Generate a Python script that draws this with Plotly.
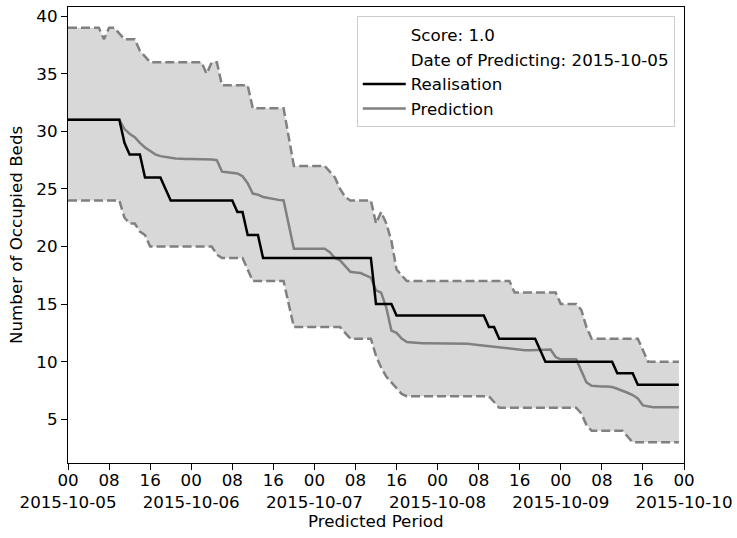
import pandas as pd
import plotly.graph_objects as go

# ---- data (hourly) ----
start = "2015-10-05 00:00"
n_hours = 120

realisation = ([31]*11 + [29] + [28]*3 + [26]*4 + [25] + [24]*13 + [23]*2 + [21]*3
               + [19]*22 + [15]*4 + [14]*18 + [13]*2 + [12]*8 + [11] + [10]*14
               + [9]*4 + [8]*9)

prediction = ([31]*11 + [30.2, 29.8, 29.5, 29.0, 28.6, 28.3, 28.0, 27.85, 27.75, 27.7, 27.65,
               27.6, 27.6, 27.6, 27.6, 27.55, 27.55, 27.55, 27.5, 26.5, 26.45, 26.4, 26.35, 26.1,
               25.5, 24.6, 24.5, 24.3, 24.2, 24.1, 24.05, 24.0, 22.0, 19.8,
               19.8, 19.8, 19.8, 19.8, 19.8, 19.8, 19.5, 19.0, 18.8, 18.3, 17.8, 17.75, 17.7,
               17.5, 17.3, 16.2, 16.0, 14.7, 12.7, 12.5, 12.0, 11.7,
               11.65, 11.65, 11.6, 11.6, 11.6, 11.6, 11.6, 11.6, 11.6, 11.6, 11.55, 11.55, 11.5,
               11.45, 11.35, 11.3, 11.25, 11.2, 11.15, 11.1, 11.1, 11.05, 11.0, 11.0, 11.0,
               11.05, 11.05, 11.05, 10.4, 10.2, 10.2, 10.2, 10.2, 9.2, 8.2, 7.9,
               7.85, 7.85, 7.85, 7.8, 7.65, 7.5, 7.3, 7.1, 6.8, 6.2, 6.1,
               6.05, 6.05, 6.05, 6.05, 6.05, 6.05])

upper = ([39]*7 + [38] + [39]*2 + [38.5] + [38]*3 + [37, 36.5] + [36]*11 + [35] + [36]*2
         + [34]*6 + [32]*7 + [29.5] + [27]*7 + [26.5, 26, 25, 24.3] + [24]*5
         + [22, 23, 22, 20.5, 18, 17.5] + [17]*21 + [16]*9 + [15]*4 + [14.5, 13]
         + [12]*10 + [11] + [10]*7)

lower = ([24]*11 + [22.5] + [22]*2 + [21.3, 21] + [20]*13 + [19.3] + [19]*5 + [18]
         + [17]*7 + [15] + [13]*10 + [12.5] + [12]*5
         + [10.5, 9.5, 8.7, 8.2, 7.7, 7.2] + [7]*17 + [6.5] + [6]*16 + [5.5, 4.5]
         + [4]*7 + [3.5] + [3]*10)

tick_vals = ["2015-10-05 00:00", "2015-10-05 08:00", "2015-10-05 16:00",
             "2015-10-06 00:00", "2015-10-06 08:00", "2015-10-06 16:00",
             "2015-10-07 00:00", "2015-10-07 08:00", "2015-10-07 16:00",
             "2015-10-08 00:00", "2015-10-08 08:00", "2015-10-08 16:00",
             "2015-10-09 00:00", "2015-10-09 08:00", "2015-10-09 16:00",
             "2015-10-10 00:00"]
tick_text = ["00<br>2015-10-05", "08", "16",
             "00<br>2015-10-06", "08", "16",
             "00<br>2015-10-07", "08", "16",
             "00<br>2015-10-08", "08", "16",
             "00<br>2015-10-09", "08", "16",
             "00<br>2015-10-10"]
y_ticks = [5, 10, 15, 20, 25, 30, 35, 40]

score_label = "Score: 1.0"
date_label = "Date of Predicting: 2015-10-05"
x_title = "Predicted Period"
y_title = "Number of Occupied Beds"

x = pd.date_range(start, periods=n_hours, freq="h")

FONT = "DejaVu Sans"
FS = 16.7
fig = go.Figure()

# band
fig.add_trace(go.Scatter(x=x, y=lower, mode="lines", line=dict(width=0, color="rgba(0,0,0,0)"),
                         showlegend=False, hoverinfo="skip"))
fig.add_trace(go.Scatter(x=x, y=upper, mode="lines", line=dict(width=0, color="rgba(0,0,0,0)"),
                         fill="tonexty", fillcolor="#d8d8d8", showlegend=False, hoverinfo="skip"))
# dashed bounds
for arr in (lower, upper):
    fig.add_trace(go.Scatter(x=x, y=arr, mode="lines",
                             line=dict(color="#808080", width=2.5, dash="9px,4px"),
                             showlegend=False))

# legend text-only entries
fig.add_trace(go.Scatter(x=[None], y=[None], mode="lines", name=score_label,
                         line=dict(color="rgba(0,0,0,0)", width=0), legendrank=1, legendgroup="a"))
fig.add_trace(go.Scatter(x=[None], y=[None], mode="lines", name=date_label,
                         line=dict(color="rgba(0,0,0,0)", width=0), legendrank=2, legendgroup="b"))

fig.add_trace(go.Scatter(x=x, y=prediction, mode="lines", name="Prediction",
                         line=dict(color="#808080", width=2.5), legendrank=4, legendgroup="d"))
fig.add_trace(go.Scatter(x=x, y=realisation, mode="lines", name="Realisation",
                         line=dict(color="black", width=2.5), legendrank=3, legendgroup="c"))

axis_common = dict(showgrid=False, zeroline=False, showline=True, linecolor="black", linewidth=1.3,
                   mirror=True, ticks="outside", ticklen=6, tickcolor="black", tickwidth=1.3,
                   tickangle=0, automargin=False,
                   tickfont=dict(family=FONT, size=FS, color="black"))

annotations = [
    dict(text=x_title, xref="paper", yref="paper", x=0.5, y=-0.127,
         xanchor="center", yanchor="middle", showarrow=False,
         font=dict(family=FONT, size=FS, color="black")),
    dict(text=y_title, xref="paper", yref="paper", x=-0.0844, y=0.5, textangle=-90,
         xanchor="center", yanchor="middle", showarrow=False,
         font=dict(family=FONT, size=FS, color="black")),
]

fig.update_layout(
    width=737, height=538,
    margin=dict(l=68, r=53, t=7, b=75),
    paper_bgcolor="white", plot_bgcolor="white",
    font=dict(family=FONT, size=FS, color="black"),
    legend=dict(x=0.985, y=0.98, xanchor="right", yanchor="top",
                bgcolor="rgba(255,255,255,0.8)", bordercolor="#cccccc", borderwidth=1,
                font=dict(family=FONT, size=FS, color="black"),
                itemwidth=43, tracegroupgap=1, traceorder="normal"),
    xaxis=dict(range=["2015-10-05 00:00", "2015-10-10 00:00"], tickmode="array",
               tickvals=tick_vals, ticktext=tick_text, ticklabelstandoff=-4, **axis_common),
    yaxis=dict(range=[1.2, 40.8], tickmode="array", tickvals=y_ticks, **axis_common),
    annotations=annotations,
)

# remove the default page margin so the figure sits at the window's top-left corner
fig.write_html("out.html", config={"displayModeBar": False},
               post_script="document.body.style.margin='0';document.body.style.overflow='hidden';")
